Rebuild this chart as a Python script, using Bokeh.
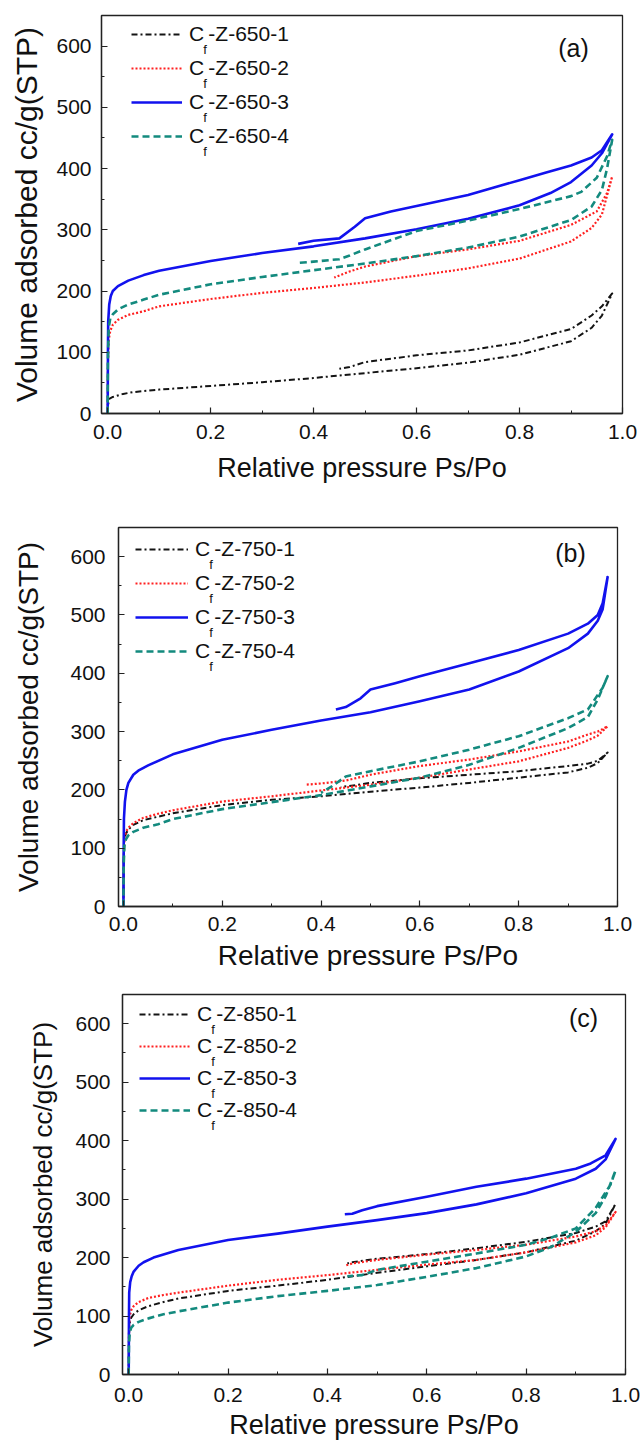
from bokeh.plotting import figure
from bokeh.models import (Range1d, FixedTicker, NumeralTickFormatter, Legend,
                          LegendItem, Label)
from bokeh.layouts import column
from bokeh.embed import file_html
from bokeh.resources import INLINE

FONT = "Liberation Sans"

# ---------------- axis ticks ----------------
x_ticks = [0.0, 0.2, 0.4, 0.6, 0.8, 1.0]
x_minor = [0.1, 0.3, 0.5, 0.7, 0.9]
y_ticks = [0, 100, 200, 300, 400, 500, 600]
y_minor = [50, 150, 250, 350, 450, 550]

x_title = "Relative pressure Ps/Po"
y_title = "Volume adsorbed cc/g(STP)"

# ---------------- panel (a): 650 ----------------
a_names = ["-Z-650-1", "-Z-650-2", "-Z-650-3", "-Z-650-4"]
a1_x = [0, 0.001, 0.003, 0.01, 0.03, 0.05, 0.1, 0.2, 0.3, 0.4, 0.5, 0.6, 0.7, 0.8, 0.9, 0.94, 0.96, 0.98,
        0.96, 0.94, 0.9, 0.85, 0.8, 0.7, 0.6, 0.5, 0.47, 0.45]
a1_y = [0, 15, 24, 27, 32, 35, 39, 45, 51, 58, 66, 74, 83, 96, 118, 140, 160, 196,
        175, 160, 138, 127, 116, 103, 95, 84, 76, 73]
a2_x = [0, 0.0005, 0.002, 0.005, 0.01, 0.02, 0.04, 0.07, 0.1, 0.2, 0.3, 0.4, 0.5, 0.6, 0.7, 0.8, 0.9, 0.94, 0.96, 0.98,
        0.97, 0.95, 0.9, 0.8, 0.7, 0.6, 0.5, 0.47, 0.44]
a2_y = [0, 80, 120, 135, 145, 153, 161, 167, 175, 187, 197, 205, 214, 225, 237, 253, 281, 303, 325, 387,
        360, 330, 308, 282, 268, 257, 240, 232, 222]
a3_x = [0, 0.0005, 0.001, 0.003, 0.006, 0.01, 0.02, 0.04, 0.07, 0.1, 0.2, 0.3, 0.4, 0.5, 0.6, 0.7, 0.8, 0.86, 0.9, 0.94, 0.96, 0.98,
        0.96, 0.94, 0.9, 0.85, 0.8, 0.7, 0.6, 0.55, 0.5, 0.48, 0.45, 0.4, 0.37]
a3_y = [0, 100, 150, 178, 192, 200, 208, 217, 226, 233, 249, 262, 273, 286, 301, 318, 340, 360, 378, 405, 425, 456,
        430, 418, 405, 393, 381, 357, 339, 330, 319, 305, 286, 282, 277]
a4_x = [0, 0.0005, 0.002, 0.005, 0.01, 0.02, 0.04, 0.07, 0.1, 0.2, 0.3, 0.4, 0.5, 0.6, 0.7, 0.8, 0.9, 0.94, 0.96, 0.97, 0.98,
        0.97, 0.95, 0.92, 0.9, 0.8, 0.7, 0.6, 0.5, 0.47, 0.45, 0.4, 0.37]
a4_y = [0, 90, 140, 155, 162, 170, 178, 186, 194, 211, 223, 234, 245, 257, 271, 289, 316, 338, 365, 400, 447,
        420, 385, 362, 355, 334, 315, 298, 268, 258, 252, 248, 246]

# ---------------- panel (b): 750 ----------------
b_names = ["-Z-750-1", "-Z-750-2", "-Z-750-3", "-Z-750-4"]
b1_x = [0, 0.0005, 0.002, 0.005, 0.01, 0.02, 0.04, 0.07, 0.1, 0.2, 0.3, 0.4, 0.5, 0.6, 0.7, 0.8, 0.9, 0.94, 0.96, 0.98,
        0.96, 0.94, 0.9, 0.8, 0.7, 0.6, 0.5, 0.47, 0.44]
b1_y = [0, 80, 115, 125, 132, 140, 148, 154, 160, 174, 183, 189, 197, 204, 212, 221, 230, 238, 246, 264,
        250, 245, 241, 232, 226, 220, 212, 208, 205]
b2_x = [0, 0.0005, 0.002, 0.005, 0.01, 0.02, 0.04, 0.07, 0.1, 0.2, 0.3, 0.4, 0.5, 0.6, 0.7, 0.8, 0.9, 0.94, 0.96, 0.98,
        0.96, 0.94, 0.9, 0.8, 0.7, 0.6, 0.5, 0.45, 0.4, 0.37]
b2_y = [0, 80, 118, 128, 135, 143, 152, 159, 165, 180, 189, 199, 209, 221, 235, 249, 272, 285, 293, 309,
        300, 295, 283, 266, 252, 241, 226, 216, 211, 209]
b3_x = [0, 0.0005, 0.001, 0.003, 0.006, 0.01, 0.02, 0.03, 0.05, 0.1, 0.2, 0.3, 0.4, 0.5, 0.6, 0.7, 0.8, 0.9, 0.94, 0.96, 0.97, 0.98,
        0.97, 0.96, 0.94, 0.9, 0.8, 0.7, 0.6, 0.55, 0.5, 0.48, 0.45, 0.43]
b3_y = [0, 100, 150, 180, 200, 212, 226, 233, 242, 261, 286, 303, 319, 333, 352, 372, 403, 443, 468, 490, 510, 565,
        520, 500, 485, 468, 440, 417, 395, 383, 372, 357, 342, 338]
b4_x = [0, 0.0005, 0.002, 0.005, 0.01, 0.02, 0.04, 0.07, 0.1, 0.2, 0.3, 0.4, 0.5, 0.6, 0.7, 0.8, 0.9, 0.94, 0.96, 0.98,
        0.97, 0.94, 0.9, 0.8, 0.7, 0.6, 0.5, 0.45, 0.42, 0.4]
b4_y = [0, 70, 105, 115, 122, 128, 135, 141, 150, 167, 179, 191, 206, 221, 243, 272, 306, 325, 355, 395,
        375, 338, 323, 292, 269, 249, 232, 223, 205, 195]

# ---------------- panel (c): 850 ----------------
c_names = ["-Z-850-1", "-Z-850-2", "-Z-850-3", "-Z-850-4"]
c1_x = [0, 0.0005, 0.002, 0.005, 0.01, 0.02, 0.04, 0.07, 0.1, 0.2, 0.3, 0.4, 0.5, 0.6, 0.7, 0.8, 0.9, 0.94, 0.96, 0.98,
        0.96, 0.94, 0.9, 0.8, 0.7, 0.6, 0.5, 0.45, 0.44]
c1_y = [0, 60, 88, 97, 103, 110, 117, 124, 130, 143, 152, 162, 174, 185, 196, 209, 229, 245, 258, 292,
        262, 253, 242, 227, 216, 206, 198, 192, 190]
c2_x = [0, 0.0005, 0.002, 0.005, 0.01, 0.02, 0.04, 0.07, 0.1, 0.2, 0.3, 0.4, 0.5, 0.6, 0.7, 0.8, 0.9, 0.94, 0.96, 0.98,
        0.96, 0.94, 0.9, 0.8, 0.7, 0.6, 0.5, 0.45, 0.435]
c2_y = [0, 70, 100, 110, 117, 124, 131, 136, 140, 152, 162, 170, 179, 188, 196, 209, 226, 238, 252, 278,
        255, 245, 236, 222, 213, 205, 196, 190, 186]
c3_x = [0, 0.0005, 0.001, 0.003, 0.006, 0.01, 0.02, 0.03, 0.05, 0.1, 0.2, 0.3, 0.4, 0.5, 0.6, 0.7, 0.8, 0.9, 0.94, 0.96, 0.98,
        0.96, 0.93, 0.9, 0.8, 0.7, 0.6, 0.5, 0.47, 0.45, 0.435]
c3_y = [0, 100, 140, 158, 168, 176, 186, 192, 200, 213, 230, 241, 253, 264, 276, 291, 310, 335, 352, 368, 403,
        375, 361, 352, 335, 321, 304, 288, 281, 275, 274]
c4_x = [0, 0.0005, 0.002, 0.005, 0.01, 0.02, 0.04, 0.07, 0.1, 0.2, 0.3, 0.4, 0.5, 0.6, 0.7, 0.8, 0.85, 0.9, 0.94, 0.96, 0.98,
        0.97, 0.94, 0.9, 0.85, 0.8, 0.7, 0.6, 0.5, 0.47, 0.44]
c4_y = [0, 50, 72, 80, 85, 90, 96, 103, 108, 123, 134, 143, 153, 167, 182, 202, 218, 244, 276, 305, 349,
        325, 285, 250, 234, 222, 207, 193, 179, 170, 168]

# ---------------- styles ----------------
colors = ["#141414", "#ff2020", "#1212ee", "#138a7e"]
dashes = ["6 3 2 3", "2 2", "solid", "7 4"]
widths = [2.0, 2.2, 2.6, 2.6]


def make_panel(series, names, tag, b_left, b_right, b_top, b_bottom, height, x0,
               ytitle_size, ylab_standoff, ytick_standoff, xtitle_size, xlab_standoff, xtick_standoff,
               leg_x, leg_top, item_h, item_gap, glyph_w, label_so, tag_x, tag_y):
    p = figure(width=641, height=height, x_range=Range1d(x0, 1.0), y_range=Range1d(0, 650),
               output_backend="svg", toolbar_location=None, frame_align=False,
               min_border_left=b_left, min_border_right=b_right,
               min_border_top=b_top, min_border_bottom=b_bottom)
    frame_h = height - b_top - b_bottom
    p.xgrid.grid_line_color = None
    p.ygrid.grid_line_color = None
    p.outline_line_color = "#222222"
    p.outline_line_width = 1.3
    p.background_fill_color = "white"
    p.border_fill_color = "white"

    p.xaxis.ticker = FixedTicker(ticks=x_ticks, minor_ticks=x_minor)
    p.yaxis.ticker = FixedTicker(ticks=y_ticks, minor_ticks=y_minor)
    p.xaxis.formatter = NumeralTickFormatter(format="0.0")
    for ax in (p.xaxis[0], p.yaxis[0]):
        ax.axis_line_color = "#222222"
        ax.axis_line_width = 1.3
        ax.major_tick_in = 6
        ax.major_tick_out = 0
        ax.minor_tick_in = 3
        ax.minor_tick_out = 0
        ax.major_tick_line_color = "#222222"
        ax.minor_tick_line_color = "#222222"
        ax.major_tick_line_width = 1.2
        ax.minor_tick_line_width = 1.0
        ax.major_label_text_font = FONT
        ax.major_label_text_font_size = "21px"
        ax.major_label_text_color = "#111111"
        ax.axis_label_text_font = FONT
        ax.axis_label_text_font_style = "normal"
        ax.axis_label_text_color = "#111111"
    p.xaxis.axis_label = x_title
    p.xaxis.axis_label_text_font_size = xtitle_size
    p.xaxis.axis_label_standoff = xlab_standoff
    p.xaxis.major_label_standoff = xtick_standoff
    p.yaxis.axis_label = y_title
    p.yaxis.axis_label_text_font_size = ytitle_size
    p.yaxis.axis_label_standoff = ylab_standoff
    p.yaxis.major_label_standoff = ytick_standoff

    items = []
    for i, (xs, ys) in enumerate(series):
        r = p.line(xs, ys, line_color=colors[i], line_dash=dashes[i], line_width=widths[i],
                   line_join="round")
        items.append(LegendItem(label="C\u2009" + names[i], renderers=[r]))

    legend_h = 4 * item_h + 3 * item_gap
    legend = Legend(items=items, location=(leg_x, frame_h - leg_top - legend_h),
                    padding=0, margin=0, spacing=item_gap,
                    glyph_width=glyph_w, glyph_height=item_h, label_height=item_h,
                    label_standoff=label_so,
                    label_text_font=FONT, label_text_font_size="21px",
                    label_text_color="#111111",
                    border_line_color=None, background_fill_alpha=0)
    p.add_layout(legend)

    c_w = 0.722 * 21
    for i in range(4):
        cy = leg_top + item_h / 2 + i * (item_h + item_gap)
        p.add_layout(Label(x=leg_x + glyph_w + label_so + c_w - 1.5, y=frame_h - cy - 15,
                           x_units="screen", y_units="screen", text="f",
                           text_font=FONT, text_font_size="13px", text_color="#111111",
                           text_baseline="alphabetic", text_align="left"))

    p.add_layout(Label(x=tag_x, y=frame_h - tag_y, x_units="screen", y_units="screen",
                       text=tag, text_font=FONT, text_font_size="25px", text_color="#111111",
                       text_align="center", text_baseline="middle"))
    return p


pa = make_panel([(a1_x, a1_y), (a2_x, a2_y), (a3_x, a3_y), (a4_x, a4_y)], a_names, "(a)",
                b_left=101, b_right=19, b_top=15, b_bottom=82, height=495, x0=-0.012,
                ytitle_size="30px", ylab_standoff=10, ytick_standoff=10,
                xtitle_size="27px", xlab_standoff=11, xtick_standoff=11,
                leg_x=30, leg_top=4, item_h=30, item_gap=4, glyph_w=51, label_so=7,
                tag_x=472, tag_y=32)
pb = make_panel([(b1_x, b1_y), (b2_x, b2_y), (b3_x, b3_y), (b4_x, b4_y)], b_names, "(b)",
                b_left=118, b_right=24, b_top=32, b_bottom=69, height=480, x0=-0.01,
                ytitle_size="28px", ylab_standoff=23, ytick_standoff=13,
                xtitle_size="28px", xlab_standoff=6, xtick_standoff=10,
                leg_x=17, leg_top=7, item_h=30, item_gap=4, glyph_w=53, label_so=7,
                tag_x=452, tag_y=25)
pc = make_panel([(c1_x, c1_y), (c2_x, c2_y), (c3_x, c3_y), (c4_x, c4_y)], c_names, "(c)",
                b_left=122, b_right=16, b_top=19, b_bottom=65, height=467, x0=-0.0125,
                ytitle_size="26px", ylab_standoff=14, ytick_standoff=12,
                xtitle_size="27px", xlab_standoff=5, xtick_standoff=13,
                leg_x=17, leg_top=9, item_h=28, item_gap=4, glyph_w=51, label_so=7,
                tag_x=461, tag_y=26)

layout = column(pa, pb, pc, spacing=0)
open("out.html", "w").write(file_html(layout, INLINE))
